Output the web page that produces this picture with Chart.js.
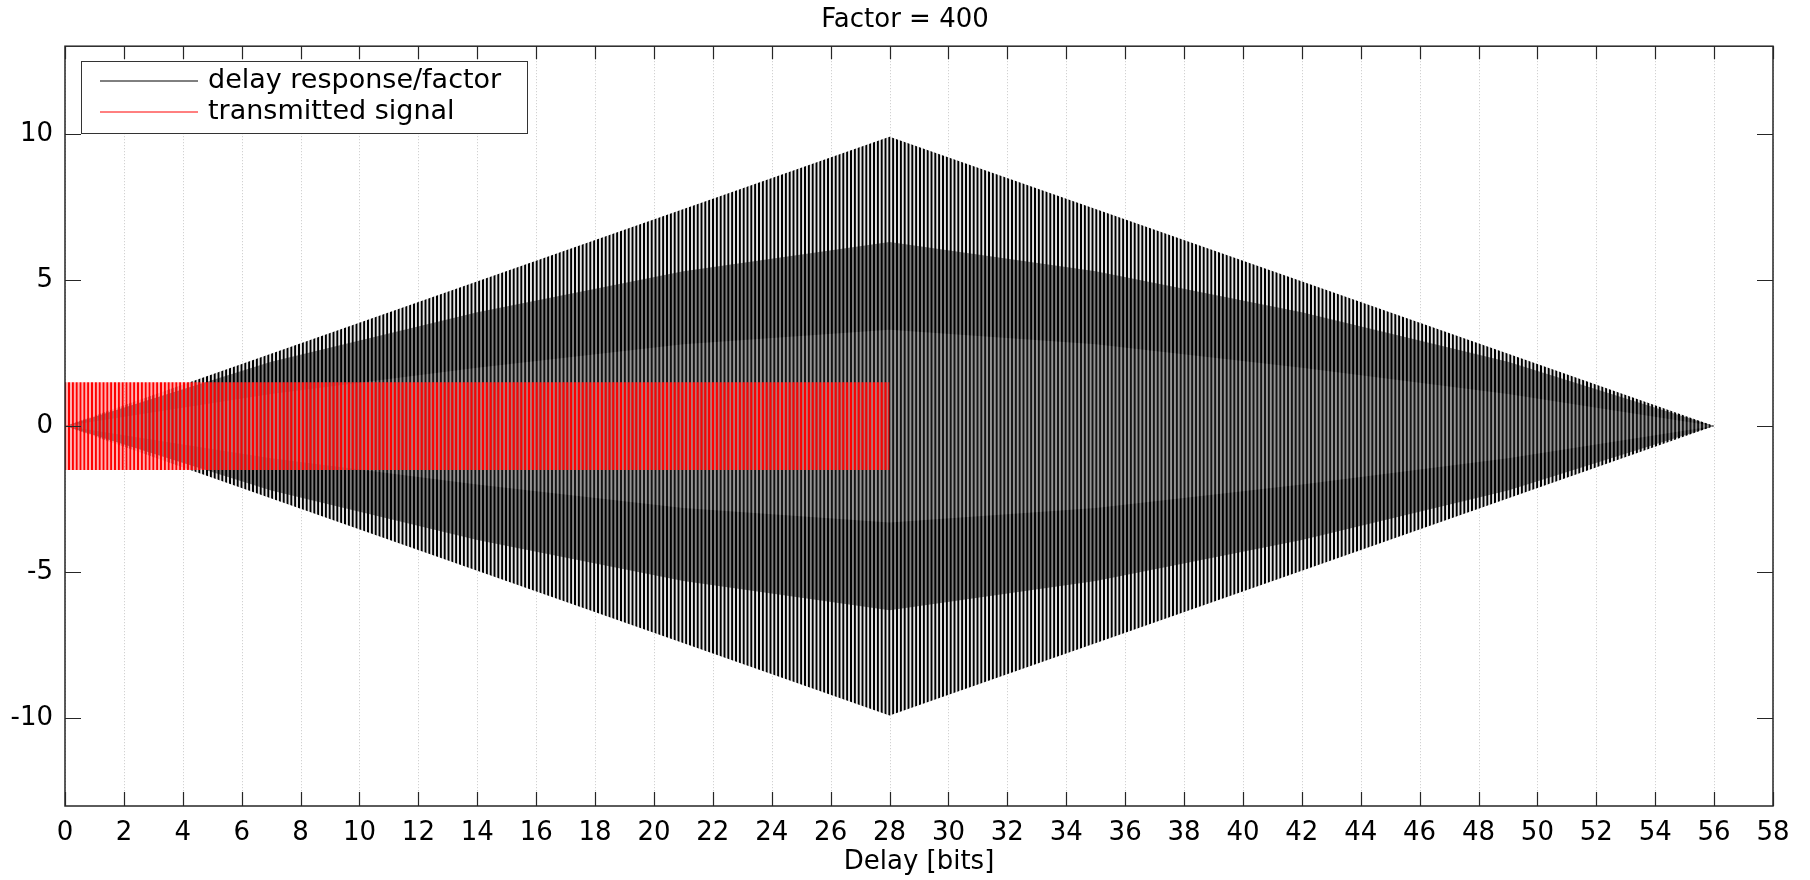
<!DOCTYPE html>
<html>
<head>
<meta charset="utf-8">
<script src="https://cdn.jsdelivr.net/npm/chart.js@4.4.1/dist/chart.umd.min.js"></script>
<style>
  body { margin: 0; background: #fff; }
  canvas { display: block; }
</style>
</head>
<body>
<canvas id="chart" width="1810" height="880"></canvas>
<script>
// envelope of the delay response (bits / amplitude)
var envX = [0, 28, 56];
var envUpper = [0, 9.9, 0];
var envLower = [0, -9.9, 0];

// darker inner bands seen inside the response
var bandX = [0, 7, 14, 21, 28, 35, 42, 49, 56];
var band1Upper = [0, 2.2, 3.9, 5.3, 6.3, 5.3, 3.9, 2.2, 0];
var band1Lower = [0, -2.2, -3.9, -5.3, -6.3, -5.3, -3.9, -2.2, 0];
var band2Upper = [0, 1.1, 2.0, 2.8, 3.3, 2.8, 2.0, 1.1, 0];
var band2Lower = [0, -1.1, -2.0, -2.8, -3.3, -2.8, -2.0, -1.1, 0];

// transmitted signal
var sigX = [0, 28];
var sigUpper = [1.5, 1.5];
var sigLower = [-1.5, -1.5];

var xTicks = [0, 2, 4, 6, 8, 10, 12, 14, 16, 18, 20, 22, 24, 26, 28, 30, 32, 34, 36, 38, 40, 42, 44, 46, 48, 50, 52, 54, 56, 58];
var yTicks = [-10, -5, 0, 5, 10];

var FONT = 'DejaVu Sans';

function pts(xs, ys) {
  return xs.map(function (x, i) { return { x: x, y: ys[i] }; });
}

// vertical stripe fill, stands in for the dense carrier
function stripes(dark, light, sharp) {
  var w = 23, cycles = 6;
  var c = document.createElement('canvas');
  c.width = w; c.height = 1;
  var g = c.getContext('2d');
  for (var i = 0; i < w; i++) {
    var ph = ((i + 0.5) * cycles / w) % 1;
    var t = 0.5 + 0.5 * Math.cos(2 * Math.PI * ph);
    t = Math.min(1, Math.max(0, (t - 0.5) * sharp + 0.5));
    var col = dark.map(function (d, k) { return light[k] + (d - light[k]) * t; });
    g.fillStyle = 'rgba(' + Math.round(col[0]) + ',' + Math.round(col[1]) + ',' + Math.round(col[2]) + ',' + col[3] + ')';
    g.fillRect(i, 0, 1, 1);
  }
  return g.createPattern(c, 'repeat');
}

var patBase = stripes([0, 0, 0, 1], [230, 230, 230, 1], 1.5);
var patBand1 = stripes([0, 0, 0, 1], [125, 125, 125, 1], 1.4);
var patBand2 = stripes([20, 20, 20, 1], [150, 150, 150, 1], 1.4);
var patRed = stripes([255, 0, 0, 1], [255, 60, 60, 0.4], 1.6);

function area(label, xs, ys, fill, pattern, order) {
  return {
    label: label,
    data: pts(xs, ys),
    fill: fill,
    backgroundColor: pattern,
    borderColor: 'rgba(0,0,0,0)',
    borderWidth: 0,
    pointRadius: 0,
    order: order
  };
}

var frame = {
  id: 'frame',
  beforeDatasetsDraw: function (chart) {
    var a = chart.chartArea, ctx = chart.ctx, xs = chart.scales.x;
    ctx.save();
    ctx.strokeStyle = '#c8c8c8';
    ctx.lineWidth = 1;
    ctx.setLineDash([1, 2]);
    xTicks.forEach(function (v) {
      var px = Math.round(xs.getPixelForValue(v)) + 0.5;
      ctx.beginPath(); ctx.moveTo(px, a.top); ctx.lineTo(px, a.bottom); ctx.stroke();
    });
    ctx.restore();
  },
  afterDraw: function (chart) {
    var a = chart.chartArea, ctx = chart.ctx, xs = chart.scales.x, ys = chart.scales.y;
    ctx.save();
    ctx.strokeStyle = '#262626';
    ctx.lineWidth = 1.5;
    ctx.strokeRect(a.left, a.top, a.right - a.left, a.bottom - a.top);
    ctx.lineWidth = 1.2;
    ctx.beginPath();
    xTicks.forEach(function (v) {
      var px = Math.round(xs.getPixelForValue(v)) + 0.5;
      ctx.moveTo(px, a.bottom); ctx.lineTo(px, a.bottom - 14);
      ctx.moveTo(px, a.top); ctx.lineTo(px, a.top + 13);
    });
    yTicks.forEach(function (v) {
      var py = Math.round(ys.getPixelForValue(v)) + 0.5;
      ctx.moveTo(a.left, py); ctx.lineTo(a.left + 16, py);
      ctx.moveTo(a.right, py); ctx.lineTo(a.right - 16, py);
    });
    ctx.stroke();

    // legend box inside the axes, top left
    var ds = chart.data.datasets;
    var items = [ds[6], ds[0]];
    var colors = ['#000000', '#ff0000'];
    ctx.fillStyle = '#fff';
    ctx.fillRect(81, 61, 446, 72);
    ctx.strokeStyle = '#333';
    ctx.lineWidth = 1;
    ctx.strokeRect(81.5, 61.5, 446, 72);
    ctx.font = '27px "' + FONT + '"';
    ctx.textBaseline = 'middle';
    ctx.textAlign = 'left';
    items.forEach(function (d, i) {
      var y = 81 + i * 31;
      ctx.strokeStyle = colors[i];
      ctx.beginPath(); ctx.moveTo(100, y); ctx.lineTo(198, y); ctx.stroke();
      ctx.fillStyle = '#000';
      ctx.fillText(d.label, 208, y);
    });
    ctx.restore();
  }
};

new Chart(document.getElementById('chart'), {
  type: 'line',
  data: {
    datasets: [
      area('transmitted signal', sigX, sigUpper, '+1', patRed, 0),
      area('', sigX, sigLower, false, patRed, 0),
      area('', bandX, band2Upper, '+1', patBand2, 1),
      area('', bandX, band2Lower, false, patBand2, 1),
      area('', bandX, band1Upper, '+1', patBand1, 2),
      area('', bandX, band1Lower, false, patBand1, 2),
      area('delay response/factor', envX, envUpper, '+1', patBase, 3),
      area('', envX, envLower, false, patBase, 3)
    ]
  },
  options: {
    responsive: false,
    animation: false,
    events: [],
    layout: { padding: 0 },
    plugins: {
      legend: { display: false },
      tooltip: { enabled: false },
      title: {
        display: true,
        text: 'Factor = 400',
        color: '#000',
        font: { family: FONT, size: 26, weight: 'normal', lineHeight: 1.2 },
        padding: { top: 5, bottom: 10 }
      }
    },
    scales: {
      x: {
        type: 'linear',
        min: 0,
        max: 58,
        afterBuildTicks: function (s) { s.ticks = xTicks.map(function (v) { return { value: v }; }); },
        afterFit: function (s) { s.height = 74; },
        grid: { display: false, drawTicks: false },
        border: { display: false },
        ticks: { color: '#000', padding: 12, maxRotation: 0, autoSkip: false, font: { family: FONT, size: 26 } },
        title: {
          display: true,
          text: 'Delay [bits]',
          color: '#000',
          font: { family: FONT, size: 26, lineHeight: 1.2 },
          padding: { top: 0, bottom: 2 }
        }
      },
      y: {
        type: 'linear',
        min: -13,
        max: 13,
        afterBuildTicks: function (s) { s.ticks = yTicks.map(function (v) { return { value: v }; }); },
        afterFit: function (s) { s.width = 65; },
        grid: { display: false, drawTicks: false },
        border: { display: false },
        ticks: { color: '#000', padding: 12, font: { family: FONT, size: 26 } }
      },
      yRight: {
        type: 'linear',
        position: 'right',
        min: -13,
        max: 13,
        afterFit: function (s) { s.width = 37; },
        grid: { display: false, drawTicks: false },
        border: { display: false },
        ticks: { display: false }
      }
    }
  },
  plugins: [frame]
});
</script>
</body>
</html>
